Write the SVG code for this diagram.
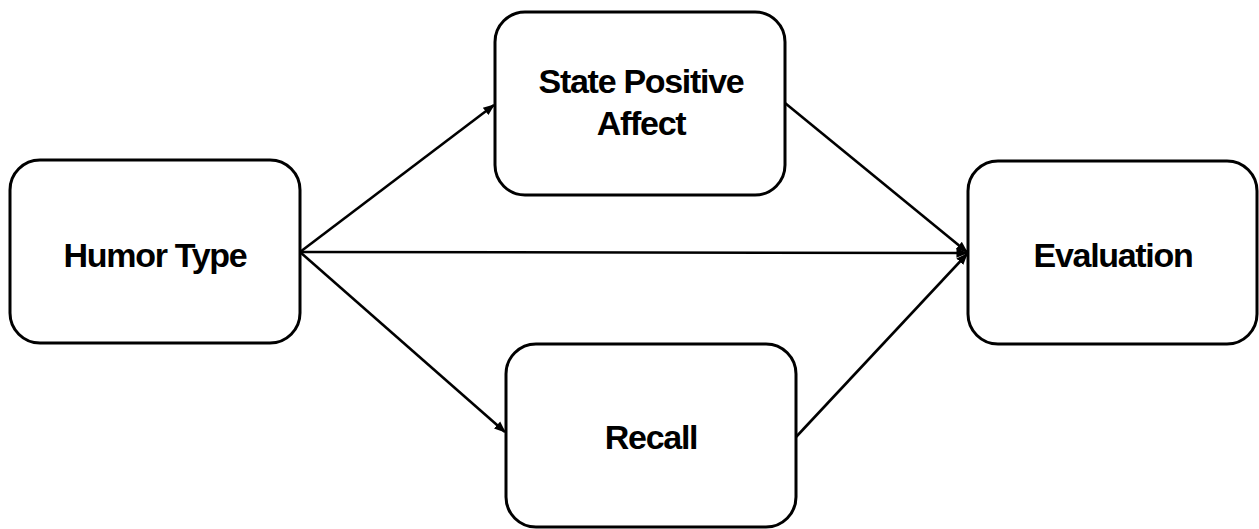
<svg xmlns="http://www.w3.org/2000/svg" width="1259" height="529" viewBox="0 0 1259 529">
<defs>
<marker id="arr" viewBox="0 0 10 10" refX="9" refY="5" markerWidth="4.5" markerHeight="4.5" markerUnits="strokeWidth" orient="auto">
<path d="M0,1 L10,5 L0,9 z" fill="#000"/>
</marker>
<style>
.box{fill:#fff;stroke:#000;stroke-width:3}
.lbl{font-family:"Liberation Sans",Arial,sans-serif;font-weight:bold;font-size:34px;letter-spacing:-1.3px;fill:#000;text-anchor:middle}
.edge{stroke:#000;stroke-width:2.6;fill:none;marker-end:url(#arr)}
</style>
</defs>
<rect width="1259" height="529" fill="#fff"/>
<g id="connectors">
<line class="edge" x1="300" y1="252" x2="494" y2="105"/>
<line class="edge" x1="300" y1="252" x2="967" y2="253"/>
<line class="edge" x1="300" y1="252" x2="505" y2="432"/>
<line class="edge" x1="785" y1="103" x2="967" y2="252"/>
<line class="edge" x1="796" y1="437" x2="967" y2="254"/>
</g>
<g id="humor-type">
<rect class="box" x="10" y="160" width="290" height="183" rx="30"/>
<text class="lbl" x="155" y="267">Humor Type</text>
</g>
<g id="state-positive-affect">
<rect class="box" x="495" y="12" width="290" height="183" rx="30"/>
<text class="lbl" x="641" y="93">State Positive</text>
<text class="lbl" x="641" y="135">Affect</text>
</g>
<g id="recall">
<rect class="box" x="506" y="344" width="290" height="183" rx="30"/>
<text class="lbl" x="651" y="449">Recall</text>
</g>
<g id="evaluation">
<rect class="box" x="968" y="161" width="289" height="183" rx="30"/>
<text class="lbl" x="1113" y="267">Evaluation</text>
</g>
</svg>
